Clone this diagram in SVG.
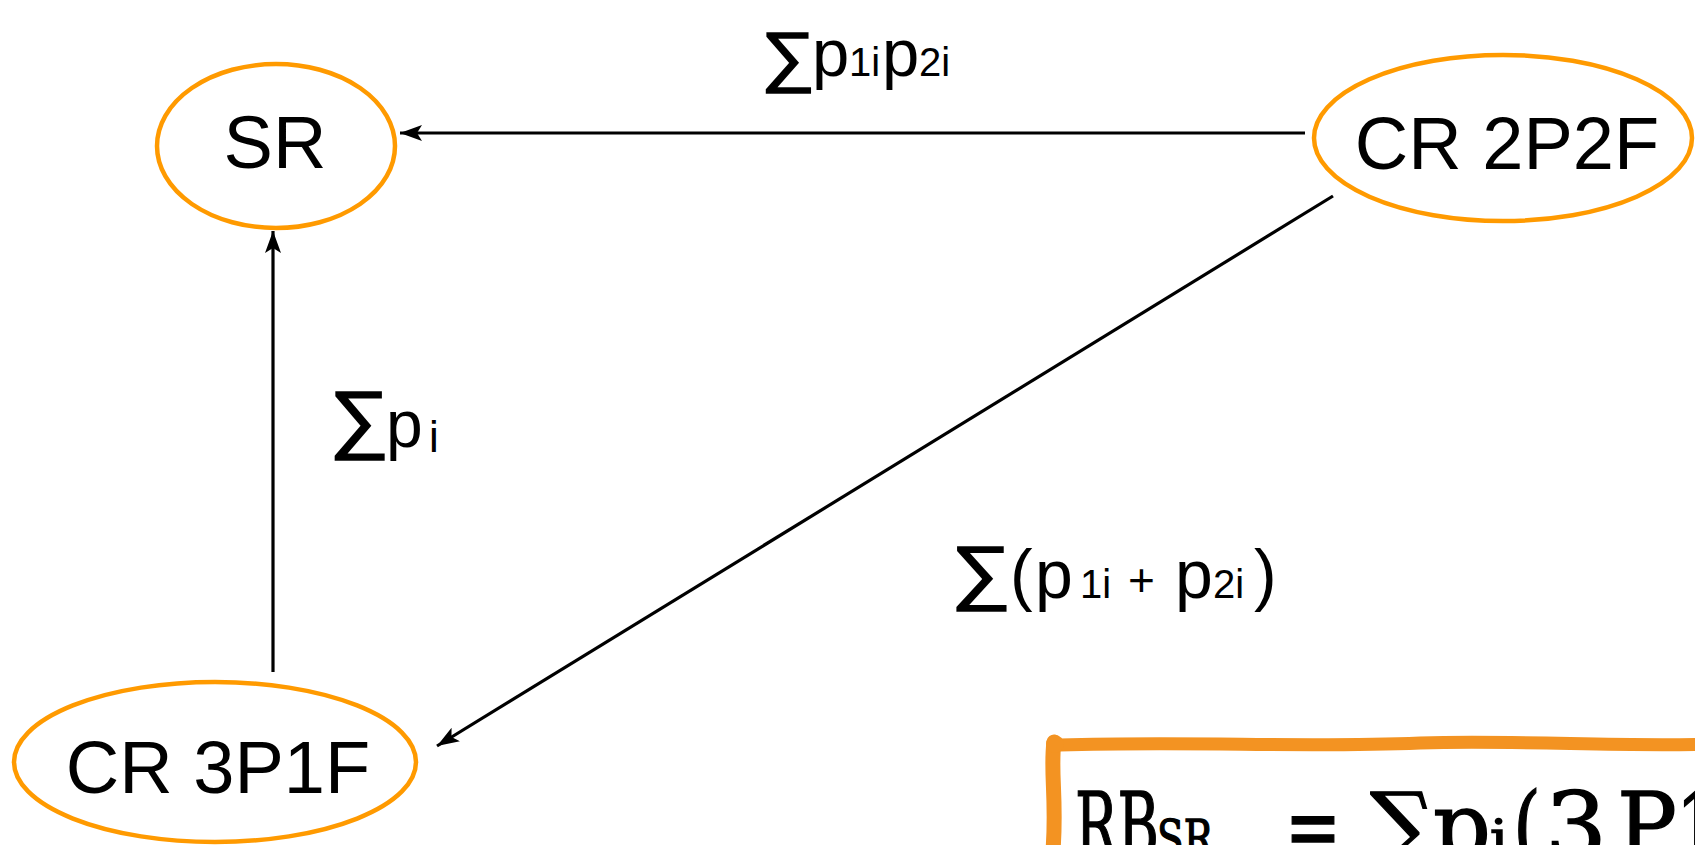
<svg xmlns="http://www.w3.org/2000/svg" width="1695" height="845" viewBox="0 0 1695 845">
<defs>
<style>
.node{fill:#fff;stroke:#FF9A00;stroke-width:4.5}
.nt{font-family:"Liberation Sans",Arial,sans-serif;font-size:74px;fill:#000;text-anchor:middle}
.lb{font-family:"Liberation Sans",Arial,sans-serif;fill:#000}
.sg{font-family:"Liberation Sans",Arial,sans-serif;fill:#000;stroke:#000;stroke-width:1.6}
.edge{stroke:#000;stroke-width:3.2;fill:none}
.fx{font-family:"DejaVu Serif","Liberation Serif",serif;fill:#000;stroke:#000;stroke-width:1.4}
</style>
<marker id="ah" markerUnits="userSpaceOnUse" markerWidth="24" markerHeight="18" refX="22" refY="9" orient="auto">
<path d="M0,1 L22,9 L0,17 L5,9 Z" fill="#000"/>
</marker>
</defs>
<rect width="1695" height="845" fill="#fff"/>
<g id="connectors">
<line class="edge" x1="1305" y1="133" x2="400" y2="133" marker-end="url(#ah)"/>
<line class="edge" x1="273" y1="672" x2="273" y2="231" marker-end="url(#ah)"/>
<line class="edge" x1="1333" y1="196" x2="437" y2="746" marker-end="url(#ah)"/>
</g>
<g id="label-top">
<text class="sg" x="761" y="79" font-size="67" textLength="54" lengthAdjust="spacingAndGlyphs">∑</text>
<text class="lb" x="812" y="76" font-size="67">p</text>
<text class="lb" x="849" y="76" font-size="40">1i</text>
<text class="lb" x="882" y="76" font-size="67">p</text>
<text class="lb" x="919" y="76" font-size="40">2i</text>
</g>
<g id="label-left">
<text class="sg" x="329" y="444" font-size="76" textLength="60" lengthAdjust="spacingAndGlyphs">∑</text>
<text class="lb" x="386" y="447" font-size="66">p</text>
<text class="lb" x="429" y="452" font-size="44">i</text>
</g>
<g id="label-diag">
<text class="sg" x="951" y="596" font-size="71" textLength="60" lengthAdjust="spacingAndGlyphs">∑</text>
<text class="lb" x="1010" y="598" font-size="68">(</text>
<text class="lb" x="1035" y="598" font-size="68">p</text>
<text class="lb" x="1080" y="598" font-size="40">1i</text>
<text class="lb" x="1128" y="596" font-size="46">+</text>
<text class="lb" x="1175" y="598" font-size="68">p</text>
<text class="lb" x="1213" y="598" font-size="40">2i</text>
<text class="lb" x="1254" y="598" font-size="68">)</text>
</g>
<g id="SR">
<ellipse class="node" cx="276" cy="146" rx="119" ry="82"/>
<text class="nt" x="275" y="168">SR</text>
</g>
<g id="CR2P2F">
<ellipse class="node" cx="1503" cy="138" rx="189" ry="83"/>
<text class="nt" x="1507" y="169">CR 2P2F</text>
</g>
<g id="CR3P1F">
<ellipse class="node" cx="215" cy="762" rx="201" ry="80"/>
<text class="nt" x="218" y="793">CR 3P1F</text>
</g>
<g id="formula">
<path d="M1060,745 C1200,741 1300,748 1420,743 C1520,740 1620,747 1710,744" fill="none" stroke="#F39322" stroke-width="13" stroke-linecap="round"/>
<path d="M1054,742 C1050,770 1057,800 1053,850" fill="none" stroke="#F39322" stroke-width="15" stroke-linecap="round"/>
<circle cx="1055" cy="744" r="9" fill="#F39322"/>
<text class="fx" x="1075" y="858" font-size="92" textLength="84" lengthAdjust="spacingAndGlyphs">RB</text>
<text class="fx" x="1157" y="856" font-size="50" textLength="56" lengthAdjust="spacingAndGlyphs">SR</text>
<text class="fx" x="1285" y="858" font-size="92" textLength="56" lengthAdjust="spacingAndGlyphs">=</text>
<text class="fx" x="1370" y="858" font-size="92" textLength="64" lengthAdjust="spacingAndGlyphs">∑</text>
<text class="fx" x="1433" y="858" font-size="92" textLength="58" lengthAdjust="spacingAndGlyphs">p</text>
<text class="fx" x="1490" y="856" font-size="50" textLength="18" lengthAdjust="spacingAndGlyphs">i</text>
<text class="fx" x="1513" y="858" font-size="92" textLength="28" lengthAdjust="spacingAndGlyphs">(</text>
<text class="fx" x="1545" y="858" font-size="92" textLength="62" lengthAdjust="spacingAndGlyphs">3</text>
<text class="fx" x="1617" y="858" font-size="92" textLength="60" lengthAdjust="spacingAndGlyphs">P</text>
<text class="fx" x="1676" y="858" font-size="92" textLength="44" lengthAdjust="spacingAndGlyphs">1</text>
</g>
</svg>
